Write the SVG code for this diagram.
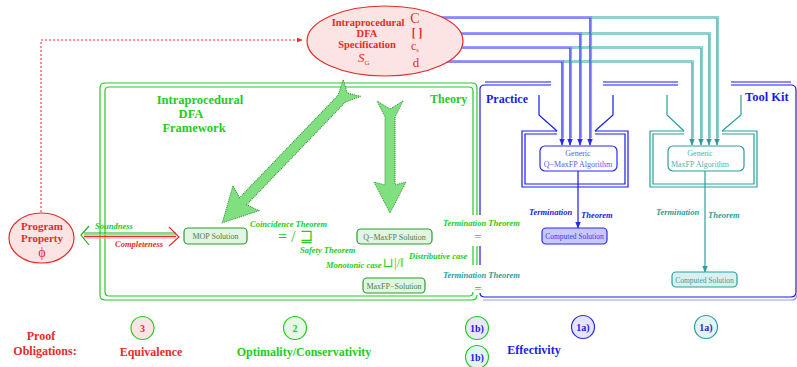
<svg xmlns="http://www.w3.org/2000/svg" width="797" height="367" viewBox="0 0 797 367">
<defs>
<marker id="ab" viewBox="0 0 10 10" refX="9" refY="5" markerWidth="6" markerHeight="6" orient="auto"><path d="M0,1 L10,5 L0,9 z" fill="#2a2aee"/></marker>
<marker id="at" viewBox="0 0 10 10" refX="9" refY="5" markerWidth="6" markerHeight="6" orient="auto"><path d="M0,1 L10,5 L0,9 z" fill="#2a9e9e"/></marker>
<marker id="ar" viewBox="0 0 10 10" refX="9" refY="5" markerWidth="6" markerHeight="6" orient="auto"><path d="M0,1 L10,5 L0,9 z" fill="#e82a2a"/></marker>
</defs>
<style>
text{font-family:"Liberation Serif","DejaVu Serif",serif}
.b{font-weight:bold}
.it{font-style:italic;font-weight:bold;font-size:8.5px}
.m{text-anchor:middle}
.red{fill:#e82a2a}
.grn{fill:#22cc22}
.blu{fill:#1a1aee}
.tea{fill:#2a9e9e}
.ln{fill:none;stroke-width:1.2}
.sb{stroke:#1a1aee}
.sbl{stroke:#9a9aff}
.st{stroke:#2a9e9e}
.stl{stroke:#8fd0d0}
.sg{stroke:#22cc22}
.box{stroke-width:1.2}
.gbox{fill:#e2f5e2;stroke:#2c9c2c}
.gtx{fill:#4f7f4f;font-size:8px;text-anchor:middle}
.big{fill:#80e080;stroke:#2d8a2d;stroke-width:1;stroke-dasharray:1 1}
.h1{font-size:12.5px;font-weight:bold}
.h2{font-size:12px;font-weight:bold}
</style>
<rect width="797" height="367" fill="#ffffff"/>

<!-- frames -->
<g id="theory-frame" class="ln sg">
<path d="M477,215 V88 Q477,83 472,83 H105 Q100,83 100,88 V295 Q100,300 105,300 H472 Q477,300 477,295"/>
<path d="M473,215 V91 Q473,87 469,87 H109 Q105,87 105,91 V292 Q105,296 109,296 H469 Q473,296 473,292"/>
<path d="M477,246 V265 M473,246 V265"/>
</g>
<g id="practice-frame" class="ln">
<path class="sb" d="M480,215 V89 Q480,85 485,85 H551 M603,85 H678 M731,85 H791 Q796,85 796,90 V292 Q796,297 791,297 H485 Q480,297 480,293 M480,246 V265"/>
<path class="sb" d="M485,82 H551 M603,82 H678 M731,82 H791"/>
<path class="sbl" d="M483,300 H791 Q797,300 797,294"/>
</g>

<!-- connectors -->
<g id="connectors">
<g class="ln">
<path class="sbl" d="M430,16.5 H591.5 V138"/>
<path class="sbl" d="M430,32.5 H581.5 V138"/>
<path class="sbl" d="M430,46.5 H571.5 V138"/>
<path class="sbl" d="M430,60.5 H563.5 V138"/>
<path class="stl" d="M592,16.5 H718.5 V138"/>
<path class="stl" d="M582,32.5 H710.5 V138"/>
<path class="stl" d="M572,46.5 H702.5 V138"/>
<path class="stl" d="M564,60.5 H693.5 V138"/>
<path class="sb" d="M428,18 H590 V145" marker-end="url(#ab)"/>
<path class="sb" d="M428,34 H580 V145" marker-end="url(#ab)"/>
<path class="sb" d="M428,48 H570 V145" marker-end="url(#ab)"/>
<path class="sb" d="M428,62 H562 V145" marker-end="url(#ab)"/>
<path class="st" d="M590,18 H717 V145" marker-end="url(#at)"/>
<path class="st" d="M580,34 H709 V145" marker-end="url(#at)"/>
<path class="st" d="M570,48 H701 V145" marker-end="url(#at)"/>
<path class="st" d="M562,62 H692 V145" marker-end="url(#at)"/>
<path class="sb" d="M539,95 V115 L557,131 M613,95 V115 L595,131"/>
<path class="st" d="M667,95 V115 L684,131 M741,95 V115 L722,131"/>
<path class="sb" d="M557,131 H522 V187 H628 V131 H595"/>
<path class="sb" d="M557,134 H525 V184 H625 V134 H595"/>
<path class="st" d="M684,131 H650 V187 H757 V131 H722"/>
<path class="st" d="M684,134 H653 V184 H754 V134 H722"/>
<path class="sb" d="M578,171 V228" marker-end="url(#ab)"/>
<path class="st" d="M705,171 V272" marker-end="url(#at)"/>
<path d="M41,212 V40 H302" stroke="#e82a2a" stroke-width="1" stroke-dasharray="2 2" fill="none" marker-end="url(#ar)"/>
<path d="M84,233 H176" stroke="#22aa22" stroke-width="1.2"/>
<path d="M84,234.6 H176" stroke="#8fdd8f" stroke-width="1"/>
<path d="M84,236.4 H176" stroke="#e82a2a" stroke-width="1.2"/>
<path d="M84,238 H176" stroke="#ff9a9a" stroke-width="1"/>
<path d="M89,226 L81,235 L89,245" stroke="#22aa22" stroke-width="1.2" fill="none"/>
<path d="M169,227 L179,237 L169,246" stroke="#e82a2a" stroke-width="1.2" fill="none"/>
</g>
<polygon class="big" transform="translate(352,88) rotate(133.9)" points="0,-12 7,0 0,12 15,5 157,5 153,18 187,0 153,-18 157,-5 15,-5"/>
<polygon class="big" transform="translate(390,101) rotate(90)" points="0,-13 8,0 0,13 16,5 84,5 81,16 112,0 81,-16 84,-5 16,-5"/>
</g>

<!-- spec ellipse -->
<g id="spec">
<ellipse cx="385" cy="41" rx="78" ry="35" fill="#fde4e4" stroke="#e82a2a" stroke-width="1.2"/>
<text class="b m red" x="368" y="26" font-size="10.5">Intraprocedural</text>
<text class="b m red" x="367" y="37" font-size="10.5">DFA</text>
<text class="b m red" x="367" y="48" font-size="10.5">Specification</text>
<text class="red" x="358" y="62" font-size="13"><tspan font-style="italic">S</tspan><tspan font-size="7" dy="3">G</tspan></text>
<text class="red m" x="415" y="23" font-size="14">C</text>
<text class="red m b" x="417" y="36.5" font-size="11.5">[ ]</text>
<text class="red" x="411" y="50" font-size="12">c<tspan font-size="6.5" dy="2">s</tspan></text>
<text class="red m" x="416" y="67" font-size="13">d</text>
</g>

<!-- program property -->
<g id="program-property">
<ellipse cx="41.5" cy="238" rx="32.5" ry="25" fill="#fde4e4" stroke="#e82a2a" stroke-width="1.2"/>
<text class="b m red" x="42" y="230" font-size="11">Program</text>
<text class="b m red" x="42" y="242" font-size="11">Property</text>
<text class="m red" x="42" y="257" font-size="14">ϕ</text>
<text class="it grn" x="95" y="229">Soundness</text>
<text class="it red" x="115" y="247">Completeness</text>
</g>

<!-- theory -->
<g id="framework">
<text class="h1 m grn" x="200" y="104">Intraprocedural</text>
<text class="h1 m grn" x="191" y="118">DFA</text>
<text class="h1 m grn" x="194" y="132">Framework</text>
<text class="h2 grn" x="430" y="103">Theory</text>
</g>
<g id="mop">
<rect class="gbox box" x="184" y="228" width="63" height="16" rx="4"/>
<text class="gtx" x="215.5" y="239">MOP Solution</text>
</g>
<g id="qmaxfp-solution">
<rect class="gbox box" x="357" y="229" width="75" height="15" rx="4"/>
<text class="gtx" x="394.5" y="240">Q−MaxFP Solution</text>
</g>
<g id="maxfp-solution">
<rect class="gbox box" x="363" y="278" width="62" height="15" rx="4"/>
<text class="gtx" x="394" y="289">MaxFP−Solution</text>
</g>
<g id="relations">
<text class="it grn" x="250" y="227">Coincidence Theorem</text>
<text class="grn" x="278" y="242" font-size="16" font-family="DejaVu Sans">= / ⊒</text>
<text class="it grn" x="300" y="253">Safety Theorem</text>
<text class="it grn" x="326" y="268">Monotonic case</text>
<text class="grn" x="383" y="267" font-size="13" font-family="DejaVu Sans">⊔|/‖</text>
<text class="it grn" x="409" y="259">Distributive case</text>
<text class="it grn" x="443" y="226">Termination Theorem</text>
<text class="m grn" x="478" y="241" font-size="13">=</text>
<text class="it tea" x="443" y="278">Termination Theorem</text>
<text class="m grn" x="478" y="293" font-size="13">=</text>
</g>

<!-- practice -->
<g id="practice-labels">
<text class="h2 blu" x="486" y="103">Practice</text>
<text class="blu b" x="745" y="101" font-size="12.5">Tool Kit</text>
</g>
<g id="qmaxfp-algorithm">
<rect x="540" y="146" width="77" height="25" rx="5" fill="#ffffff" stroke="#2a2aee" stroke-width="1.2"/>
<text class="m" x="578" y="156" font-size="8" fill="#5a5aff">Generic</text>
<text class="m" x="578" y="167" font-size="8" fill="#5a5aff">Q−MaxFP Algorithm</text>
</g>
<g id="maxfp-algorithm">
<rect x="668" y="146" width="76" height="25" rx="5" fill="#ffffff" stroke="#2a9e9e" stroke-width="1.2"/>
<text class="m" x="700" y="156" font-size="8" fill="#4fb0b0">Generic</text>
<text class="m" x="700" y="167" font-size="8" fill="#4fb0b0">MaxFP Algorithm</text>
</g>
<g id="computed-blue">
<rect x="542" y="228" width="65" height="16" rx="4" fill="#c8c8ff" stroke="#2a2aee" stroke-width="1.2"/>
<text class="m" x="574.5" y="239" font-size="7.5" fill="#3a3aee">Computed Solution</text>
<text class="it blu" x="529" y="215">Termination</text>
<text class="it blu" x="581" y="218">Theorem</text>
</g>
<g id="computed-teal">
<rect x="672" y="272" width="65" height="15" rx="4" fill="#d8f0f0" stroke="#2a9e9e" stroke-width="1.2"/>
<text class="m" x="704.5" y="283" font-size="7.5" fill="#3a9e9e">Computed Solution</text>
<text class="it tea" x="656" y="215">Termination</text>
<text class="it tea" x="708" y="218">Theorem</text>
</g>

<!-- proof obligations -->
<g id="obligations">
<text class="h2 m red" x="41" y="340">Proof</text>
<text class="h2 m red" x="45" y="355">Obligations:</text>
<circle cx="142.5" cy="328" r="11.5" fill="#fde4e4" stroke="#22cc22" stroke-width="1.2"/>
<text class="b m red" x="142.5" y="332" font-size="10">3</text>
<text class="h2 m red" x="151" y="356">Equivalence</text>
<circle cx="295" cy="328" r="11.5" fill="#e4f8e4" stroke="#22cc22" stroke-width="1.2"/>
<text class="b m grn" x="295" y="332" font-size="10">2</text>
<text class="h2 m grn" x="304" y="356">Optimality/Conservativity</text>
<circle cx="477" cy="328" r="11.5" fill="#e8e8f8" stroke="#22cc22" stroke-width="1.2"/>
<text class="b m blu" x="477" y="332" font-size="10">1b)</text>
<circle cx="477" cy="357" r="11.5" fill="#e2f5ee" stroke="#22cc22" stroke-width="1.2"/>
<text class="b m blu" x="477" y="361" font-size="10">1b)</text>
<text class="h2 m blu" x="534" y="354">Effectivity</text>
<circle cx="583" cy="327" r="11.5" fill="#e4e4fc" stroke="#2a2aee" stroke-width="1.2"/>
<text class="b m blu" x="583" y="331" font-size="10">1a)</text>
<circle cx="706" cy="327" r="11.5" fill="#e2f4f4" stroke="#2a9e9e" stroke-width="1.2"/>
<text class="b m" x="706" y="331" font-size="10" fill="#2a2ac0">1a)</text>
</g>
</svg>
